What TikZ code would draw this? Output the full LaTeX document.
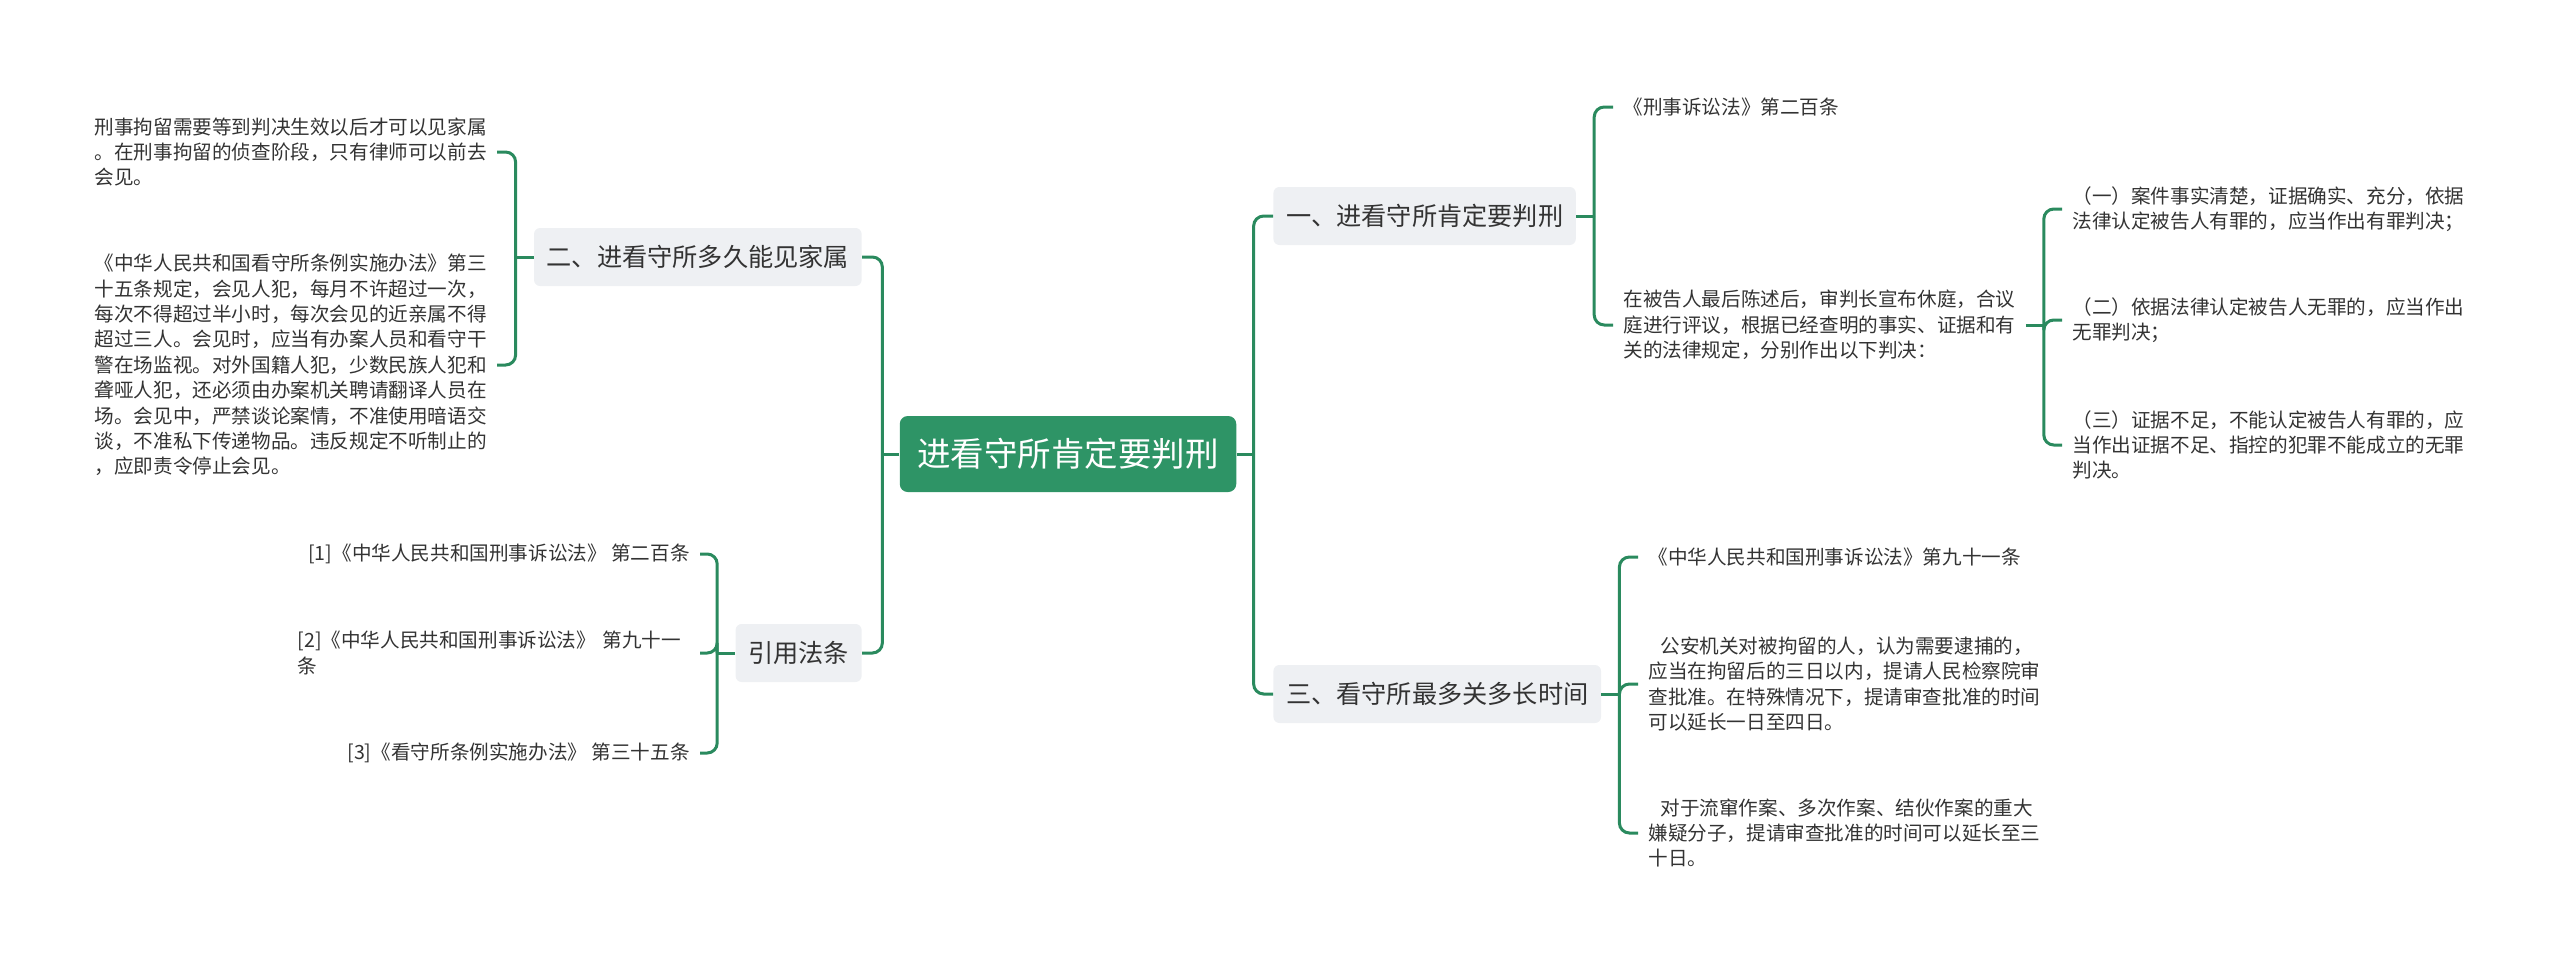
\documentclass[tikz,border=0pt]{standalone}
\usepackage{fontspec}
\setmainfont{Noto Sans CJK SC}
\usetikzlibrary{positioning}
\definecolor{RootGreen}{RGB}{46, 148, 102}
\definecolor{LinkGreen}{RGB}{42, 138, 94}
\definecolor{BranchGray}{RGB}{238, 240, 243}
\definecolor{TextGray}{RGB}{51, 51, 51}

\begin{document}
\begin{tikzpicture}[x=0.5pt, y=-0.5pt,
    link/.style={draw=LinkGreen, line width=1.5pt, rounded corners=5pt},
    rootnode/.style={fill=RootGreen, text=white, rounded corners=4pt,
                     inner xsep=8.75pt, inner ysep=0pt, minimum height=38pt,
                     font=\fontsize{16.75}{20}\selectfont},
    branchnode/.style={fill=BranchGray, text=TextGray, rounded corners=3pt,
                       inner xsep=6.3pt, inner ysep=0pt, minimum height=29pt,
                       font=\fontsize{12.6}{15}\selectfont},
    leafnode/.style={text=TextGray, inner xsep=5pt, inner ysep=2pt, align=left,
                     font=\fontsize{9.8}{12.7}\selectfont}]
  \useasboundingbox (0,0) rectangle (2560,964);

  % Root
  \node[rootnode] (root) at (1068,454) {进看守所肯定要判刑};

  % Branches
  \node[branchnode, anchor=west] (b1) at (1273,216) {一、进看守所肯定要判刑};
  \node[branchnode, anchor=west] (b3) at (1273,694) {三、看守所最多关多长时间};
  \node[branchnode, anchor=east] (b2) at (862,257) {二、进看守所多久能见家属};
  \node[branchnode, anchor=east] (b4) at (862,653) {引用法条};

  % Branch one
  \node[leafnode, anchor=west] (c11) at (1613,107) {《刑事诉讼法》第二百条};
  \node[leafnode, anchor=west] (c12) at (1613,325) {在被告人最后陈述后，审判长宣布休庭，合议\\
    庭进行评议，根据已经查明的事实、证据和有\\关的法律规定，分别作出以下判决：};
  \node[leafnode, anchor=west] (g1) at (2062,209) {（一）案件事实清楚，证据确实、充分，依据\\
    法律认定被告人有罪的，应当作出有罪判决；};
  \node[leafnode, anchor=west] (g2) at (2062,320) {（二）依据法律认定被告人无罪的，应当作出\\无罪判决；};
  \node[leafnode, anchor=west] (g3) at (2062,445) {（三）证据不足，不能认定被告人有罪的，应\\
    当作出证据不足、指控的犯罪不能成立的无罪\\判决。};

  % Branch three
  \node[leafnode, anchor=west] (c31) at (1638,557) {《中华人民共和国刑事诉讼法》第九十一条};
  \node[leafnode, anchor=west] (c32) at (1638,684) {\hspace*{6pt}公安机关对被拘留的人，认为需要逮捕的，\\
    应当在拘留后的三日以内，提请人民检察院审\\查批准。在特殊情况下，提请审查批准的时间\\
    可以延长一日至四日。};
  \node[leafnode, anchor=west] (c33) at (1638,833) {\hspace*{6pt}对于流窜作案、多次作案、结伙作案的重大\\
    嫌疑分子，提请审查批准的时间可以延长至三\\十日。};

  % Branch two
  \node[leafnode, anchor=east] (c21) at (497,152) {刑事拘留需要等到判决生效以后才可以见家属\\
    。在刑事拘留的侦查阶段，只有律师可以前去\\会见。};
  \node[leafnode, anchor=east] (c22) at (497,365) {《中华人民共和国看守所条例实施办法》第三\\
    十五条规定，会见人犯，每月不许超过一次，\\每次不得超过半小时，每次会见的近亲属不得\\
    超过三人。会见时，应当有办案人员和看守干\\警在场监视。对外国籍人犯，少数民族人犯和\\
    聋哑人犯，还必须由办案机关聘请翻译人员在\\场。会见中，严禁谈论案情，不准使用暗语交\\
    谈，不准私下传递物品。违反规定不听制止的\\，应即责令停止会见。};

  % References
  \node[leafnode, anchor=east] (r1) at (700,554) {[1]《中华人民共和国刑事诉讼法》 第二百条};
  \node[leafnode, anchor=east, text width=196pt] (r2) at (700,653) {[2]《中华人民共和国刑事诉讼法》 第九十一\\条};
  \node[leafnode, anchor=east] (r3) at (700,753) {[3]《看守所条例实施办法》 第三十五条};

  % Joints
  \coordinate (jr) at ([xshift=8.5pt]root.east);
  \coordinate (jl) at ([xshift=-8.5pt]root.west);
  \coordinate (j1) at ([xshift=9pt]b1.east);
  \coordinate (j12) at ([xshift=9pt]c12.east);
  \coordinate (j3) at ([xshift=9pt]b3.east);
  \coordinate (j2) at ([xshift=-9pt]b2.west);
  \coordinate (j4) at ([xshift=-9pt]b4.west);

  % Connectors
  \draw[link] (root.east) -- (jr);
  \draw[link] (root.west) -- (jl);
  \foreach \n in {b1,b3} \draw[link] (jr) |- (\n.west);
  \foreach \n in {b2,b4} \draw[link] (jl) |- (\n.east);

  \draw[link] (b1.east) -- (j1);
  \foreach \n in {c11,c12} \draw[link] (j1) |- (\n.west);
  \draw[link] (c12.east) -- (j12);
  \foreach \n in {g1,g2,g3} \draw[link] (j12) |- (\n.west);

  \draw[link] (b3.east) -- (j3);
  \foreach \n in {c31,c32,c33} \draw[link] (j3) |- (\n.west);

  \draw[link] (b2.west) -- (j2);
  \foreach \n in {c21,c22} \draw[link] (j2) |- (\n.east);

  \draw[link] (b4.west) -- (j4);
  \foreach \n in {r1,r2,r3} \draw[link] (j4) |- (\n.east);
\end{tikzpicture}
\end{document}
